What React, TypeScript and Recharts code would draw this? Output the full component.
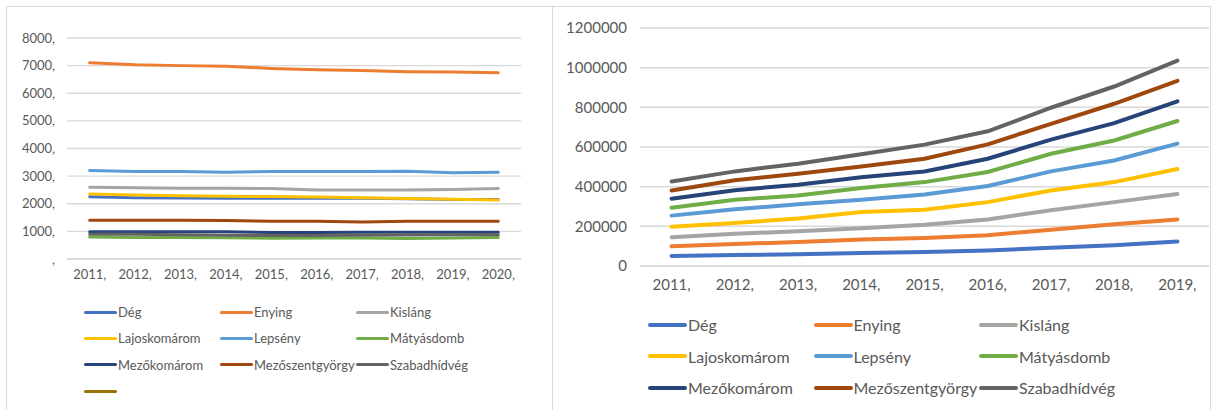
import {
  LineChart,
  Line,
  XAxis,
  YAxis,
  CartesianGrid,
  Legend,
} from "recharts";

const FONT = "Lato, 'Open Sans', sans-serif";
const TEXT = "#595959";
const GRID = "#d9d9d9";

const NAMES = [
  "Dég",
  "Enying",
  "Kisláng",
  "Lajoskomárom",
  "Lepsény",
  "Mátyásdomb",
  "Mezőkomárom",
  "Mezőszentgyörgy",
  "Szabadhídvég",
  "",
];

const COLORS = [
  "#4472C4",
  "#ED7D31",
  "#A5A5A5",
  "#FFC000",
  "#5B9BD5",
  "#70AD47",
  "#264478",
  "#9E480E",
  "#636363",
  "#997300",
];

// left chart: population per settlement
const LEFT_YEARS = ["2011,", "2012,", "2013,", "2014,", "2015,", "2016,", "2017,", "2018,", "2019,", "2020,"];
const LEFT_TICKS = [0, 1000, 2000, 3000, 4000, 5000, 6000, 7000, 8000];

const degL = [2250, 2220, 2210, 2200, 2200, 2200, 2200, 2180, 2150, 2150];
const enyingL = [7100, 7030, 7000, 6980, 6900, 6850, 6820, 6780, 6770, 6740];
const kislangL = [2600, 2580, 2560, 2560, 2550, 2500, 2500, 2500, 2520, 2550];
const lajosL = [2350, 2320, 2290, 2270, 2260, 2240, 2220, 2190, 2160, 2140];
const lepsenyL = [3200, 3170, 3170, 3140, 3170, 3170, 3170, 3180, 3120, 3140];
const matyasL = [800, 780, 780, 770, 750, 760, 760, 740, 760, 780];
const mezokomL = [990, 990, 990, 990, 960, 960, 970, 970, 970, 970];
const mezoszL = [1400, 1400, 1400, 1390, 1370, 1370, 1340, 1370, 1370, 1370];
const szabL = [900, 900, 880, 860, 850, 850, 860, 870, 880, 880];
const blankL: (number | null)[] = [];

// right chart
const RIGHT_YEARS = ["2011,", "2012,", "2013,", "2014,", "2015,", "2016,", "2017,", "2018,", "2019,"];
const RIGHT_TICKS = [0, 200000, 400000, 600000, 800000, 1000000, 1200000];

const degR = [50000, 55000, 59000, 65000, 71000, 78000, 92000, 104000, 123000];
const enyingR = [99000, 111000, 121000, 133000, 141000, 155000, 183000, 210000, 235000];
const kislangR = [145000, 163000, 175000, 190000, 208000, 235000, 281000, 322000, 363000];
const lajosR = [198000, 217000, 239000, 272000, 284000, 322000, 381000, 423000, 489000];
const lepsenyR = [254000, 286000, 311000, 334000, 360000, 403000, 477000, 532000, 617000];
const matyasR = [294000, 334000, 356000, 393000, 423000, 474000, 566000, 633000, 731000];
const mezokomR = [339000, 382000, 410000, 448000, 477000, 541000, 637000, 720000, 830000];
const mezoszR = [381000, 432000, 465000, 502000, 541000, 613000, 717000, 818000, 934000];
const szabR = [426000, 477000, 516000, 563000, 612000, 679000, 798000, 905000, 1036000];

const LEFT_SERIES = [degL, enyingL, kislangL, lajosL, lepsenyL, matyasL, mezokomL, mezoszL, szabL, blankL];
const RIGHT_SERIES = [degR, enyingR, kislangR, lajosR, lepsenyR, matyasR, mezokomR, mezoszR, szabR];

const buildRows = (years: string[], series: (number | null)[][]) =>
  years.map((year, i) => {
    const row: Record<string, any> = { year };
    series.forEach((s, k) => {
      row[`s${k}`] = s[i] ?? null;
    });
    return row;
  });

const leftData = buildRows(LEFT_YEARS, LEFT_SERIES);
const rightData = buildRows(RIGHT_YEARS, RIGHT_SERIES);

const keyIndex = (entry: any) => Number(String(entry.dataKey).slice(1));

// grid legend, 3 columns like the Excel one (kept in series order)
const makeLegend =
  (colW: number, rowH: number, swatchW: number, fontSize: number, thick: number) =>
  (props: any) => {
    const payload = [...(props.payload || [])].sort((a: any, b: any) => keyIndex(a) - keyIndex(b));
    return (
      <div
        style={{
          display: "grid",
          gridTemplateColumns: `repeat(3, ${colW}px)`,
          gridAutoRows: rowH,
          fontFamily: FONT,
          fontSize,
          color: TEXT,
        }}
      >
        {payload.map((entry: any, index: number) => (
          <div key={`item-${index}`} style={{ display: "flex", alignItems: "center", whiteSpace: "nowrap" }}>
            <div
              style={{
                width: swatchW,
                height: thick,
                borderRadius: thick / 2,
                backgroundColor: entry.color,
                marginRight: 1,
                flex: "none",
              }}
            />
            <span>{NAMES[keyIndex(entry)]}</span>
          </div>
        ))}
      </div>
    );
  };

export default function App() {
  return (
    <div
      style={{
        position: "absolute",
        left: 0,
        top: 0,
        width: 1212,
        height: 410,
        background: "#fff",
        overflow: "hidden",
      }}
    >
      {/* panel frames */}
      <div
        style={{
          position: "absolute",
          left: 6,
          top: 6,
          width: 547,
          height: 430,
          border: `1px solid ${GRID}`,
          boxSizing: "border-box",
        }}
      />
      <div
        style={{
          position: "absolute",
          left: 553,
          top: 6,
          width: 658,
          height: 430,
          border: `1px solid ${GRID}`,
          borderLeft: "none",
          boxSizing: "border-box",
        }}
      />

      <div style={{ position: "absolute", left: 0, top: 0 }}>
        <LineChart
          width={553}
          height={410}
          data={leftData}
          margin={{ top: 38, right: 32, left: 7, bottom: 121 }}
        >
          <CartesianGrid vertical={false} stroke={GRID} strokeWidth={1.3} />
          <XAxis
            dataKey="year"
            axisLine={{ stroke: GRID, strokeWidth: 1.3 }}
            tickLine={false}
            tickSize={0}
            tickMargin={11}
            height={30}
            interval={0}
            padding={{ left: 22.7, right: 22.7 }}
            tick={{ fill: TEXT, fontSize: 13, fontFamily: FONT }}
          />
          <YAxis
            width={60}
            domain={[0, 8000]}
            ticks={LEFT_TICKS}
            axisLine={false}
            tickLine={false}
            tickSize={0}
            tickMargin={12}
            tickFormatter={(v: number) => (v === 0 ? "," : `${v},`)}
            tick={{ fill: TEXT, fontSize: 13, fontFamily: FONT }}
          />
          {LEFT_SERIES.map((_, k) => (
            <Line
              key={`l-${k}`}
              dataKey={`s${k}`}
              name={NAMES[k] || " "}
              stroke={COLORS[k]}
              strokeWidth={3}
              strokeLinecap="round"
              dot={false}
              type="linear"
              isAnimationActive={false}
            />
          ))}
          <Legend
            layout="horizontal"
            verticalAlign="middle"
            align="center"
            wrapperStyle={{ left: 84, top: 299, width: 420 }}
            content={makeLegend(136, 26.3, 33, 13, 3)}
          />
        </LineChart>
      </div>

      <div style={{ position: "absolute", left: 553, top: 0 }}>
        <LineChart
          width={659}
          height={410}
          data={rightData}
          margin={{ top: 28, right: 3, left: 7, bottom: 114 }}
        >
          <CartesianGrid vertical={false} stroke={GRID} strokeWidth={1.5} />
          <XAxis
            dataKey="year"
            axisLine={{ stroke: GRID, strokeWidth: 1.5 }}
            tickLine={false}
            tickSize={0}
            tickMargin={13}
            height={30}
            interval={0}
            padding={{ left: 31.6, right: 31.6 }}
            tick={{ fill: TEXT, fontSize: 15, fontFamily: FONT }}
          />
          <YAxis
            width={80}
            domain={[0, 1200000]}
            ticks={RIGHT_TICKS}
            axisLine={false}
            tickLine={false}
            tickSize={0}
            tickMargin={13}
            tick={{ fill: TEXT, fontSize: 15, fontFamily: FONT }}
          />
          {RIGHT_SERIES.map((_, k) => (
            <Line
              key={`r-${k}`}
              dataKey={`s${k}`}
              name={NAMES[k]}
              stroke={COLORS[k]}
              strokeWidth={4}
              strokeLinecap="round"
              dot={false}
              type="linear"
              isAnimationActive={false}
            />
          ))}
          <Legend
            layout="horizontal"
            verticalAlign="middle"
            align="center"
            wrapperStyle={{ left: 95, top: 309, width: 510 }}
            content={makeLegend(165.5, 31.5, 39, 16, 4)}
          />
        </LineChart>
      </div>
    </div>
  );
}
